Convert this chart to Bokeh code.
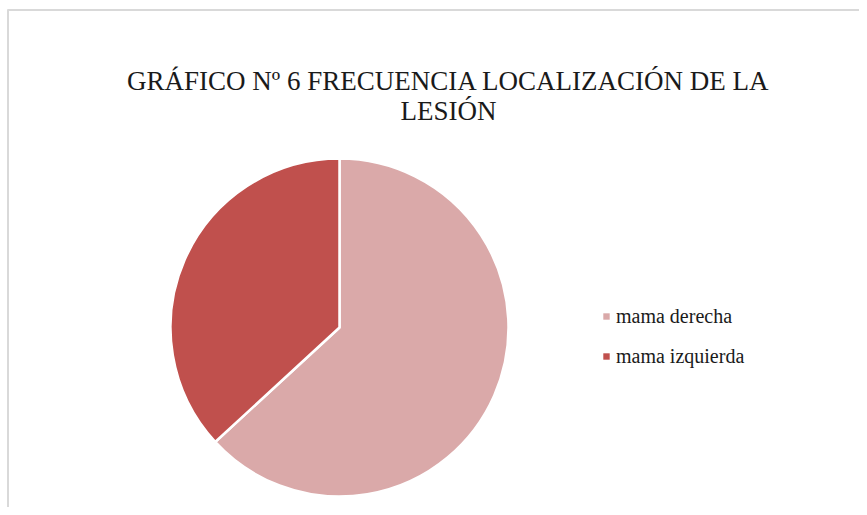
import numpy as np
from bokeh.plotting import figure
from bokeh.models import ColumnDataSource, Label, Legend, LegendItem, Range1d
from bokeh.embed import file_html
from bokeh.resources import INLINE

title_lines = ["GRÁFICO Nº 6 FRECUENCIA LOCALIZACIÓN DE LA", "LESIÓN"]
categories = ["mama derecha", "mama izquierda"]
values = [12, 7]
colors = ["#DAA9A9", "#C0504D"]

W, H = 859, 507
p = figure(width=W, height=H, output_backend="svg", toolbar_location=None,
           x_range=Range1d(0, W), y_range=Range1d(0, H), min_border=0,
           outline_line_color=None)
p.axis.visible = False
p.grid.visible = False
p.background_fill_color = "white"
p.border_fill_color = "white"

# chart frame (only top and left edges fall inside the window)
p.segment(x0=[7, 7.5], y0=[497.5, 0], x1=[W, 7.5], y1=[497.5, 498],
          line_color="#d9d9d9", line_width=2)

vals = np.array(values, dtype=float)
frac = vals / vals.sum()
cum = np.concatenate([[0], np.cumsum(frac)])
start = np.pi / 2 - 2 * np.pi * cum[:-1]
end = np.pi / 2 - 2 * np.pi * cum[1:]
src = ColumnDataSource(dict(cat=categories, start=start, end=end, color=colors))

cx, cy, r = 339, 180, 169
p.wedge(x=cx, y=cy, radius=r, start_angle="start", end_angle="end",
        direction="clock", fill_color="color", line_color="white",
        line_width=2.5, source=src)

# legend swatches (not drawn in the plot area)
lsrc = ColumnDataSource(dict(cat=categories, color=colors,
                             nan=[np.nan] * len(categories)))
sw = p.quad(left="nan", right="nan", bottom="nan", top="nan",
            fill_color="color", line_color=None, source=lsrc)

for txt, yb in zip(title_lines, [427, 397]):
    p.add_layout(Label(x=448, y=yb, x_units="screen", y_units="screen", text=txt,
                       text_align="center", text_baseline="alphabetic",
                       text_font="Liberation Serif", text_font_size="27px",
                       text_color="#1a1a1a"))

legend = Legend(items=[LegendItem(label=c, renderers=[sw], index=i) for i, c in enumerate(categories)],
                location=(602, 138), orientation="vertical",
                glyph_width=8, glyph_height=8, label_standoff=6,
                label_height=26, spacing=14, padding=0, margin=0,
                border_line_color=None, background_fill_alpha=0,
                label_text_font="Liberation Serif", label_text_font_size="20px",
                label_text_color="#1a1a1a")
p.add_layout(legend)

open("out.html", "w").write(file_html(p, INLINE))
